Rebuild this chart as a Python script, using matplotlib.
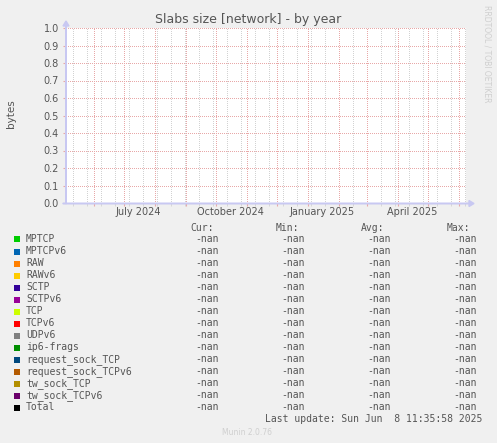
import datetime as dt

import numpy as np
import matplotlib
matplotlib.use("Agg")
import matplotlib.pyplot as plt
import matplotlib.dates as mdates
import matplotlib.transforms as mtransforms
from matplotlib.patches import Rectangle, FancyArrow

# --- data (munin "slabs size [network]", yearly view, every value is -nan) ---
NAN = float("nan")
series = ["MPTCP", "MPTCPv6", "RAW", "RAWv6", "SCTP", "SCTPv6", "TCP", "TCPv6",
          "UDPv6", "ip6-frags", "request_sock_TCP", "request_sock_TCPv6",
          "tw_sock_TCP", "tw_sock_TCPv6", "Total"]
colors = ["#00CC00", "#0066B3", "#FF8000", "#FFCC00", "#330099", "#990099",
          "#CCFF00", "#FF0000", "#808080", "#008F00", "#00487D", "#B35A00",
          "#B38F00", "#6B006B", "#000000"]
cur_vals = [NAN, NAN, NAN, NAN, NAN, NAN, NAN, NAN, NAN, NAN, NAN, NAN, NAN, NAN, NAN]
min_vals = [NAN, NAN, NAN, NAN, NAN, NAN, NAN, NAN, NAN, NAN, NAN, NAN, NAN, NAN, NAN]
avg_vals = [NAN, NAN, NAN, NAN, NAN, NAN, NAN, NAN, NAN, NAN, NAN, NAN, NAN, NAN, NAN]
max_vals = [NAN, NAN, NAN, NAN, NAN, NAN, NAN, NAN, NAN, NAN, NAN, NAN, NAN, NAN, NAN]

end_time = dt.datetime(2025, 6, 8, 11, 35, 58)
start_time = end_time - dt.timedelta(days=400)
sample_times = [start_time, end_time]

month_labels = ["July 2024", "October 2024", "January 2025", "April 2025"]
month_label_dates = [dt.datetime(2024, 7, 16), dt.datetime(2024, 10, 16),
                     dt.datetime(2025, 1, 16), dt.datetime(2025, 4, 16)]
y_ticks = [0.0, 0.1, 0.2, 0.3, 0.4, 0.5, 0.6, 0.7, 0.8, 0.9, 1.0]

title = "Slabs size [network] - by year"
ylabel = "bytes"
last_update = "Last update: Sun Jun  8 11:35:58 2025"

# --- styling ---
W, H = 497, 443
BG = "#F0F0F0"
TXT = "#555555"
AXIS = "#C8C8F2"
MAJ_GRID = "#E8A8A8"
MIN_GRID = "#D2D2D2"


def fx(px):
    return px / W


def fy(py):
    return 1 - py / H


def fmt(v):
    return "-nan" if np.isnan(v) else f"{v:.2f}"


fig = plt.figure(figsize=(W / 100, H / 100), dpi=100, facecolor=BG)
ax = fig.add_axes([fx(66), fy(203), 400 / W, 175 / H])
ax.set_facecolor("white")
for sp in ax.spines.values():
    sp.set_visible(False)

for name, col, val in zip(series, colors, cur_vals):
    ax.plot(sample_times, [val, val], color=col, lw=1, label=name)

ax.set_xlim(start_time, end_time)
ax.set_ylim(0, 1.0)

# grid: month lines red, fortnight lines gray
months = []
d = dt.datetime(start_time.year, start_time.month, 1)
while d <= end_time:
    if d >= start_time:
        months.append(d)
    d = dt.datetime(d.year + (d.month // 12), d.month % 12 + 1, 1)
fortnights = []
d = dt.datetime(2024, 5, 11)
while d <= end_time:
    fortnights.append(d)
    d += dt.timedelta(days=14)

ax.set_xticks(months)
ax.set_xticks(fortnights, minor=True)
ax.set_xticklabels([])
ax.set_yticks(y_ticks)
ax.set_yticklabels([f"{t:.1f}" for t in y_ticks], fontsize=7, color=TXT)
ax.tick_params(axis="y", length=2, color=MAJ_GRID, pad=3)
ax.tick_params(axis="x", which="major", length=2, color=MAJ_GRID)
ax.tick_params(axis="x", which="minor", length=2, color=MIN_GRID)
# 1 px dots every 2 px, drawn without antialiasing so they stay crisp
grid_kw = dict(linewidth=0.72, linestyle=(0, (0.5, 1.5)), antialiased=False)
ax.grid(True, axis="x", which="minor", color=MIN_GRID, **grid_kw)
ax.grid(True, axis="x", which="major", color=MAJ_GRID, **grid_kw)
ax.grid(True, axis="y", which="major", color=MAJ_GRID, **grid_kw)
ax.set_axisbelow(True)

lbl_tr = mtransforms.blended_transform_factory(ax.transData, fig.transFigure)
for lbl, d in zip(month_labels, month_label_dates):
    ax.text(mdates.date2num(d), fy(212), lbl, transform=lbl_tr,
            ha="center", va="center", fontsize=7, color=TXT)

# axis lines with arrows
fig.add_artist(FancyArrow(fx(66), fy(203.5), 0, (203.5 - 21) / H, width=0.6 / W,
                          head_width=6 / W, head_length=5 / H, length_includes_head=True,
                          color=AXIS, transform=fig.transFigure))
fig.add_artist(FancyArrow(fx(63), fy(203.5), (474 - 63) / W, 0, width=0.6 / H,
                          head_width=6 / H, head_length=5 / W, length_includes_head=True,
                          color=AXIS, transform=fig.transFigure))

fig.text(fx(248), fy(19), title, ha="center", va="center", fontsize=9, color=TXT)
fig.text(fx(11), fy(114), ylabel, ha="center", va="center", rotation=90, fontsize=7.5, color=TXT)
fig.text(fx(487), fy(5), "RRDTOOL / TOBI OETIKER", ha="center", va="top", rotation=270,
         fontsize=5.5, color="#CFCFCF")

# legend table
mono = "DejaVu Sans Mono"
for xh, head in zip([190, 276, 361, 447], ["Cur:", "Min:", "Avg:", "Max:"]):
    fig.text(fx(xh), fy(228), head, ha="left", va="center", fontsize=7, family=mono, color=TXT)
for i, (name, col) in enumerate(zip(series, colors)):
    y = 239.5 + 12 * i
    fig.add_artist(Rectangle((fx(14), fy(y + 3)), 6 / W, 6 / H, facecolor=col,
                             edgecolor="none", transform=fig.transFigure))
    fig.text(fx(26), fy(y), name, ha="left", va="center", fontsize=7, family=mono, color=TXT)
    for xr, vals in zip([219, 305, 391, 477], [cur_vals, min_vals, avg_vals, max_vals]):
        fig.text(fx(xr), fy(y), fmt(vals[i]), ha="right", va="center", fontsize=7,
                 family=mono, color=TXT)

fig.text(fx(482), fy(418.5), last_update, ha="right", va="center", fontsize=7, family=mono, color=TXT)
fig.text(fx(247), fy(432.5), "Munin 2.0.76", ha="center", va="center", fontsize=5.5, color="#CFCFCF")

fig.savefig("out.png", dpi=100, facecolor=BG)
